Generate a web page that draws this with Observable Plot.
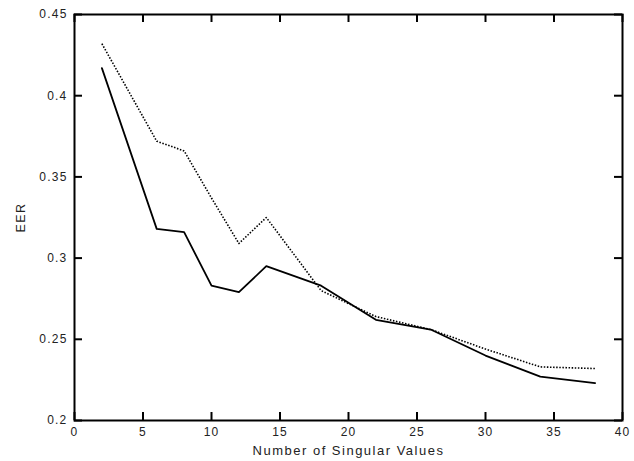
<!DOCTYPE html>
<html>
<head>
<meta charset="utf-8">
<script src="https://cdn.jsdelivr.net/npm/d3@7"></script>
<script src="https://cdn.jsdelivr.net/npm/@observablehq/plot@0.6"></script>
<style>
  html, body { margin: 0; padding: 0; background: #fff; }
  #chart svg { display: block; }
  #chart svg text { letter-spacing: 1.2px; }
  #chart svg g[aria-label="x-axis label"] text { font-size: 13px; letter-spacing: 1.5px; }
  #chart svg g[aria-label="y-axis label"] text { font-size: 12.5px; letter-spacing: 1.5px; }
</style>
</head>
<body>
<div id="chart"></div>
<script>
const singularValues = [2, 6, 8, 10, 12, 14, 18, 22, 26, 30, 34, 38];
const solidEER  = [0.417, 0.318, 0.316, 0.283, 0.279, 0.295, 0.283, 0.262, 0.256, 0.240, 0.227, 0.223];
const dottedEER = [0.432, 0.372, 0.366, 0.337, 0.309, 0.325, 0.280, 0.264, 0.256, 0.244, 0.233, 0.232];
const xTicks = [0, 5, 10, 15, 20, 25, 30, 35, 40];
const yTicks = [0.2, 0.25, 0.3, 0.35, 0.4, 0.45];

const solid = singularValues.map((x, i) => ({x, y: solidEER[i]}));
const dotted = singularValues.map((x, i) => ({x, y: dottedEER[i]}));

const font = "'Liberation Sans', Arial, sans-serif";
const W = 634, H = 461, mL = 74, mR = 12, mT = 14, mB = 41;
const tick = 8;
const innerW = W - mL - mR, innerH = H - mT - mB;

const chart = Plot.plot({
  width: W,
  height: H,
  marginLeft: mL,
  marginRight: mR,
  marginTop: mT,
  marginBottom: mB,
  style: {fontFamily: font, fontSize: "12px", color: "#222", background: "#fff"},
  x: {domain: [0, 40]},
  y: {domain: [0.2, 0.45]},
  marks: [
    Plot.axisX(xTicks, {anchor: "bottom", tickSize: 0, tickPadding: 7, tickFormat: d => String(d), label: "Number of Singular Values", labelAnchor: "center", labelOffset: 34, labelArrow: "none"}),
    Plot.axisY(yTicks, {anchor: "left", tickSize: 0, tickPadding: 7, tickFormat: d => String(d), label: "EER", labelAnchor: "center", labelOffset: 58, labelArrow: "none"}),
    Plot.line(dotted, {x: "x", y: "y", stroke: "#000", strokeWidth: 1.6, strokeDasharray: "1.5,1.6", strokeLinecap: "butt"}),
    Plot.line(solid, {x: "x", y: "y", stroke: "#000", strokeWidth: 1.8}),
    Plot.frame({stroke: "#000", strokeWidth: 2}),
    Plot.ruleX(xTicks, {x: d => d, insetTop: innerH - tick, stroke: "#000", strokeWidth: 2}),
    Plot.ruleX(xTicks, {x: d => d, insetBottom: innerH - tick, stroke: "#000", strokeWidth: 2}),
    Plot.ruleY(yTicks, {y: d => d, insetRight: innerW - tick, stroke: "#000", strokeWidth: 2}),
    Plot.ruleY(yTicks, {y: d => d, insetLeft: innerW - tick, stroke: "#000", strokeWidth: 2})
  ]
});
document.getElementById("chart").appendChild(chart);
</script>
</body>
</html>
